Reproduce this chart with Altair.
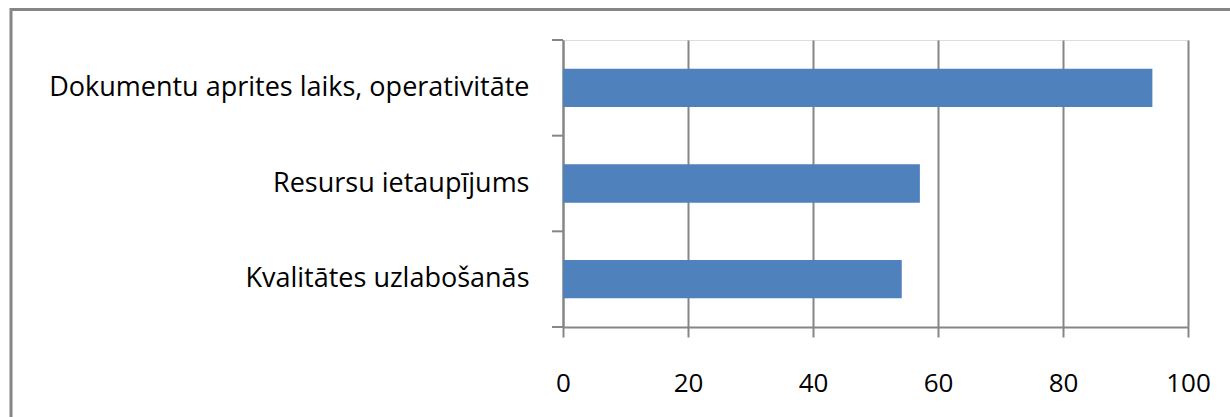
import altair as alt
import pandas as pd

categories = ["Dokumentu aprites laiks, operativitāte", "Resursu ietaupījums", "Kvalitātes uzlabošanās"]
values = [94.3, 57.1, 54.2]
x_ticks = [0, 20, 40, 60, 80, 100]

W, H = 625, 287
GRAY = "#868686"
FONT = "Open Sans"

df = pd.DataFrame({"cat": categories, "val": values})

yscale = alt.Scale(domain=categories, paddingInner=0.6, paddingOuter=0.3)

bars = alt.Chart(df).mark_bar(color="#4F81BD").encode(
    x=alt.X("val:Q", scale=alt.Scale(domain=[0, 100]),
            axis=alt.Axis(values=x_ticks, title=None, grid=True, gridColor=GRAY, gridWidth=2,
                          domainColor=GRAY, domainWidth=2, tickColor=GRAY, tickWidth=2, tickSize=10,
                          labelFont=FONT, labelFontSize=26, labelColor="black", labelPadding=33,
                          labelFlush=False)),
    y=alt.Y("cat:N", scale=yscale, sort=categories,
            axis=alt.Axis(title=None, ticks=False, domainColor=GRAY, domainWidth=2,
                          labelFont=FONT, labelFontSize=27, labelColor="black", labelPadding=34,
                          labelLimit=600)),
)

yticks = alt.Chart(df).mark_rule(color=GRAY, strokeWidth=2).encode(
    y=alt.Y("cat:N", scale=alt.Scale(domain=categories, paddingInner=0, paddingOuter=0),
            sort=categories, bandPosition=0, axis=None),
    x=alt.value(-11), x2=alt.value(0),
)
bottom_tick = alt.Chart(df.head(1)).mark_rule(color=GRAY, strokeWidth=2).encode(
    y=alt.value(H), x=alt.value(-11), x2=alt.value(0),
)
frame = alt.Chart(df.head(1)).mark_rect(fill=None, stroke=GRAY, strokeWidth=3).encode(
    x=alt.value(-552), x2=alt.value(W + 200), y=alt.value(-30.5), y2=alt.value(H + 200),
)

chart = alt.layer(bars, yticks, bottom_tick, frame).resolve_scale(y="independent").properties(
    width=W, height=H,
    autosize=alt.AutoSizeParams(type="none"),
    padding={"left": 563, "top": 40, "right": 42, "bottom": 90},
).configure_view(stroke=None).configure(background="white")

chart.save("out.html", embed_options={"renderer": "svg", "actions": False})
